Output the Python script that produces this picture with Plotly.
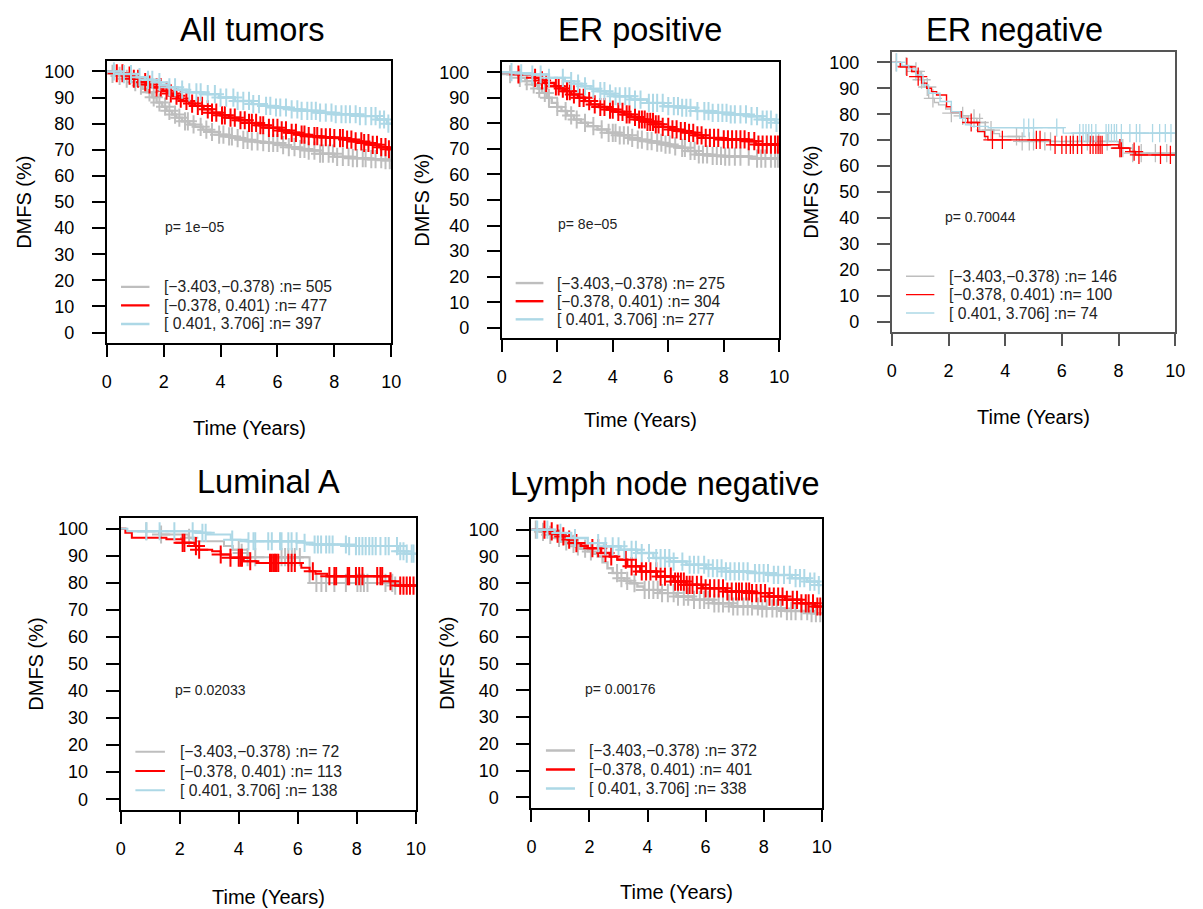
import plotly.graph_objects as go
import numpy as np

W, H = 1203, 909
OFF = 8  # default page margin of the html body; figure is shifted by it
FW, FH = W - OFF, H - OFF
GRAY, RED, BLUE = "#BEBEBE", "#FF0000", "#ADD8E6"
FONT = "Arial, 'Liberation Sans', Helvetica, sans-serif"

# ---------------- data ----------------
X_TICKS = [0, 2, 4, 6, 8, 10]
Y_TICKS = [0, 10, 20, 30, 40, 50, 60, 70, 80, 90, 100]
GROUP_RANGES = ["[\u22123.403,\u22120.378)", "[\u22120.378, 0.401)", "[ 0.401, 3.706]"]

# All tumors
ALL_N = [505, 477, 397]
ALL_P = "p= 1e\u221205"
ALL_GRAY_T = [0, 0.13, 0.35, 0.6, 0.85, 1.05, 1.25, 1.4, 1.6, 1.75, 1.95, 2.1, 2.3, 2.44, 2.65, 2.9, 3.1, 3.37, 3.65, 3.95, 4.2, 4.5, 4.8, 5.1, 5.4, 5.7, 6.05, 6.4, 6.75, 7.1, 7.5, 8.0, 8.6, 9.2, 9.7]
ALL_GRAY_S = [100, 99.1, 98.3, 97.2, 95.9, 94.6, 93.4, 92.0, 90.1, 88.1, 86.5, 84.9, 83.5, 82.3, 80.9, 79.7, 78.8, 77.7, 76.8, 75.8, 75.1, 74.5, 73.8, 73.2, 72.9, 72.6, 71.8, 71.0, 70.3, 69.7, 68.5, 67.3, 66.8, 66.4, 66.0]
ALL_GRAY_C = [0.2, 0.45, 0.7, 1.0, 1.2, 1.5, 1.65, 1.85, 2.05, 2.2, 2.4, 2.55, 2.75, 2.85, 3.05, 3.3, 3.5, 3.7, 3.95, 4.1, 4.3, 4.4, 4.6, 4.8, 4.95, 5.1, 5.3, 5.5, 5.7, 5.85, 6.0, 6.2, 6.4, 6.6, 6.8, 6.95, 7.1, 7.3, 7.5, 7.6, 7.8, 7.95, 8.1, 8.3, 8.5, 8.65, 8.8, 9.0, 9.1, 9.3, 9.45, 9.65, 9.8, 9.95]
ALL_RED_T = [0, 0.3, 0.6, 0.9, 1.17, 1.4, 1.63, 1.98, 2.15, 2.33, 2.5, 2.67, 2.9, 3.1, 3.4, 3.7, 4.0, 4.3, 4.65, 5.0, 5.35, 5.7, 6.05, 6.4, 6.75, 7.1, 7.5, 8.0, 8.35, 8.7, 9.0, 9.3, 9.6, 9.85]
ALL_RED_S = [100, 99.3, 98.4, 97.2, 95.9, 95.0, 93.9, 92.6, 91.6, 90.7, 89.6, 88.7, 87.7, 86.8, 85.5, 84.2, 83.2, 82.3, 81.3, 80.3, 79.4, 78.4, 77.4, 76.5, 75.8, 75.2, 74.8, 74.5, 73.9, 73.2, 72.6, 71.9, 71.0, 70.2]
ALL_RED_C = [0.35, 0.55, 0.8, 0.95, 1.1, 1.35, 1.5, 1.75, 1.9, 2.1, 2.25, 2.45, 2.6, 2.8, 3.0, 3.2, 3.35, 3.55, 3.7, 3.85, 4.05, 4.15, 4.35, 4.5, 4.7, 4.85, 5.0, 5.1, 5.25, 5.4, 5.5, 5.7, 5.85, 6.0, 6.15, 6.3, 6.5, 6.65, 6.85, 6.95, 7.1, 7.3, 7.4, 7.55, 7.7, 7.85, 8.0, 8.2, 8.3, 8.45, 8.6, 8.75, 8.95, 9.05, 9.2, 9.35, 9.5, 9.65, 9.8, 9.92]
ALL_BLUE_T = [0, 0.5, 1.05, 1.35, 1.63, 1.9, 2.2, 2.5, 2.8, 3.37, 3.95, 4.5, 5.1, 5.5, 5.9, 6.4, 6.84, 7.4, 8.0, 8.9, 9.5, 9.85]
ALL_BLUE_S = [100, 99.0, 97.8, 96.8, 95.9, 94.9, 93.9, 93.0, 92.0, 91.3, 90.0, 88.7, 87.5, 86.8, 86.2, 85.5, 84.9, 84.2, 83.6, 82.9, 81.6, 80.0]
ALL_BLUE_C = [0.25, 0.6, 0.85, 1.15, 1.45, 1.6, 1.85, 2.2, 2.4, 2.65, 2.9, 3.15, 3.3, 3.55, 3.8, 4.0, 4.2, 4.45, 4.6, 4.8, 5.0, 5.15, 5.35, 5.6, 5.75, 5.95, 6.1, 6.3, 6.5, 6.7, 6.85, 7.05, 7.2, 7.35, 7.5, 7.7, 7.9, 8.05, 8.25, 8.4, 8.55, 8.75, 8.9, 9.1, 9.3, 9.45, 9.6, 9.75, 9.9]

# ER positive
ERP_N = [275, 304, 277]
ERP_P = "p= 8e\u221205"
ERP_GRAY_T = [0, 0.2, 0.6, 0.85, 1.1, 1.3, 1.45, 1.62, 1.8, 2.0, 2.15, 2.35, 2.6, 2.85, 3.1, 3.45, 3.8, 4.2, 4.6, 4.9, 5.2, 5.5, 5.8, 6.1, 6.4, 6.7, 7.0, 7.5, 8.0, 9.0]
ERP_GRAY_S = [100, 99.2, 97.8, 96.5, 95.2, 93.6, 91.9, 90.0, 88.0, 86.4, 84.8, 83.1, 81.5, 80.2, 78.9, 77.6, 76.3, 75.3, 74.3, 73.6, 73.0, 72.4, 71.7, 71.0, 70.4, 69.2, 67.8, 67.3, 67.0, 66.2]
ERP_GRAY_C = [0.3, 0.65, 0.9, 1.15, 1.35, 1.55, 1.7, 2.0, 2.3, 2.5, 2.7, 3.0, 3.3, 3.6, 3.85, 4.0, 4.1, 4.25, 4.4, 4.55, 4.7, 4.9, 5.05, 5.25, 5.4, 5.6, 5.75, 5.9, 6.05, 6.25, 6.5, 6.6, 6.8, 6.95, 7.1, 7.25, 7.4, 7.6, 7.75, 7.9, 8.05, 8.2, 8.4, 8.6, 8.9, 9.2, 9.35, 9.5, 9.7, 9.85, 9.95]
ERP_RED_T = [0, 0.6, 1.1, 1.35, 1.56, 1.9, 2.1, 2.27, 2.5, 2.75, 3.0, 3.2, 3.5, 3.8, 4.1, 4.4, 4.65, 4.9, 5.2, 5.5, 5.8, 6.07, 6.35, 6.66, 6.95, 7.25, 7.96, 8.9, 9.15]
ERP_RED_S = [100, 99.1, 97.8, 96.8, 95.8, 94.5, 93.6, 92.6, 91.3, 90.0, 88.7, 87.4, 86.4, 85.4, 84.5, 83.5, 82.5, 81.5, 80.6, 79.6, 78.6, 77.6, 77.0, 76.3, 75.3, 74.3, 73.7, 73.0, 71.7]
ERP_RED_C = [0.6, 1.2, 1.45, 1.6, 1.95, 2.05, 2.2, 2.35, 2.45, 2.6, 2.8, 2.95, 3.15, 3.35, 3.55, 3.7, 3.9, 4.0, 4.2, 4.35, 4.5, 4.6, 4.8, 4.95, 5.05, 5.15, 5.25, 5.35, 5.45, 5.55, 5.65, 5.8, 6.0, 6.15, 6.3, 6.45, 6.6, 6.75, 6.9, 7.05, 7.2, 7.35, 7.5, 7.65, 7.8, 8.0, 8.15, 8.3, 8.45, 8.6, 8.75, 8.9, 9.1, 9.25, 9.4, 9.55, 9.7, 9.85, 9.95]
ERP_BLUE_T = [0, 0.5, 1.1, 1.7, 2.27, 2.6, 2.87, 3.2, 3.46, 3.75, 4.05, 4.64, 5.24, 5.83, 6.4, 7.0, 7.6, 8.2, 8.9, 9.4, 9.86]
ERP_BLUE_S = [100, 99.6, 99.1, 97.8, 96.5, 95.5, 94.5, 93.5, 92.6, 91.6, 90.6, 89.3, 88.0, 86.7, 86.1, 84.8, 84.1, 83.5, 82.8, 81.5, 80.2]
ERP_BLUE_C = [0.35, 0.7, 1.1, 1.4, 1.7, 2.2, 2.5, 2.75, 3.0, 3.3, 3.55, 3.7, 3.9, 4.1, 4.25, 4.45, 4.6, 4.8, 5.0, 5.3, 5.45, 5.6, 5.8, 6.0, 6.2, 6.35, 6.5, 6.65, 6.8, 7.05, 7.3, 7.45, 7.6, 7.8, 7.95, 8.1, 8.25, 8.4, 8.6, 8.8, 9.0, 9.2, 9.4, 9.55, 9.7, 9.9]

# ER negative
ERN_N = [146, 100, 74]
ERN_P = "p= 0.70044"
ERN_GRAY_T = [0, 0.3, 0.7, 1.0, 1.15, 1.3, 1.5, 1.65, 1.9, 2.1, 2.4, 2.7, 3.0, 3.3, 3.6, 3.8, 4.5, 8.0, 8.5]
ERN_GRAY_S = [100, 98.5, 96.5, 93.3, 90.5, 86.1, 84.5, 83.6, 82.0, 80.4, 79.4, 78.4, 76.8, 73.9, 72.5, 71.4, 69.5, 66.9, 65.0]
ERN_GRAY_C = [0.15, 0.5, 0.85, 1.05, 1.25, 1.45, 2.1, 2.5, 2.9, 3.1, 3.3, 3.5, 4.4, 4.6, 4.85, 5.0, 5.4, 5.6, 6.4, 6.9, 7.3, 7.6, 8.05, 8.15, 8.5, 8.8, 9.3, 9.7]
ERN_RED_T = [0, 0.3, 0.7, 0.9, 1.05, 1.23, 1.4, 1.58, 1.93, 2.1, 2.45, 2.68, 3.03, 3.27, 3.39, 5.59, 8.01, 8.4, 8.6]
ERN_RED_S = [100, 98.3, 96.5, 94.5, 92.0, 90.0, 88.7, 87.4, 82.9, 81.0, 78.4, 76.8, 73.3, 71.4, 70.1, 68.2, 66.9, 65.6, 64.3]
ERN_RED_C = [0.53, 0.93, 2.8, 3.55, 3.9, 5.1, 5.23, 5.76, 6.0, 6.15, 6.3, 6.4, 6.55, 6.7, 7.0, 7.1, 7.2, 7.28, 7.35, 7.42, 8.05, 8.1, 8.55, 8.72, 9.48, 9.83]
ERN_BLUE_T = [0, 0.35, 0.6, 0.85, 1.1, 1.3, 1.7, 2.1, 2.4, 2.6, 2.8, 3.4, 6.05]
ERN_BLUE_S = [100, 98.8, 97.5, 95.1, 91.3, 88.1, 84.9, 81.0, 78.4, 75.9, 75.3, 74.8, 72.7]
ERN_BLUE_C = [0.17, 4.66, 4.83, 5.0, 5.82, 6.63, 6.75, 6.85, 6.95, 7.05, 7.2, 7.56, 7.65, 7.75, 7.85, 7.93, 8.1, 8.4, 8.63, 8.75, 9.2, 9.45, 9.65, 9.85]

# Luminal A
LUMA_N = [72, 113, 138]
LUMA_P = "p= 0.02033"
LUMA_GRAY_T = [0, 0.2, 1.3, 2.3, 2.5, 3.5, 3.8, 4.1, 4.3, 6.4, 9.3]
LUMA_GRAY_S = [100, 99.1, 97.9, 96.7, 95.4, 93.6, 92.3, 91.1, 89.5, 80.0, 79.0]
LUMA_GRAY_C = [0.87, 1.37, 2.32, 4.0, 4.1, 4.3, 4.56, 5.45, 5.57, 5.68, 5.8, 5.9, 6.07, 6.63, 6.8, 6.96, 7.24, 7.63, 8.02, 8.13, 8.24, 8.36, 8.97, 9.2, 9.3]
LUMA_RED_T = [0, 0.16, 0.38, 1.55, 2.1, 2.5, 2.65, 3.1, 3.39, 3.72, 4.17, 4.6, 6.12, 6.4, 6.6, 7.0, 9.1, 9.3]
LUMA_RED_S = [100, 98.5, 96.7, 96.1, 94.8, 93.6, 92.3, 91.7, 90.5, 89.3, 88.0, 87.4, 85.6, 84.3, 83.4, 82.5, 80.6, 79.0]
LUMA_RED_C = [2.1, 2.16, 2.55, 2.66, 3.39, 3.72, 4.0, 4.06, 4.11, 4.39, 5.06, 5.12, 5.18, 5.23, 5.28, 5.34, 5.68, 5.79, 5.9, 6.51, 7.07, 7.24, 7.3, 7.69, 7.74, 7.97, 8.08, 8.19, 8.69, 8.8, 8.86, 9.14, 9.47, 9.58, 9.69, 9.8, 9.92]
LUMA_BLUE_T = [0, 0.23, 2.55, 2.9, 3.73, 4.3, 6.2, 6.5, 7.7, 9.4, 9.6]
LUMA_BLUE_S = [100, 99.1, 98.5, 97.9, 96.0, 95.4, 94.8, 94.2, 93.6, 91.7, 90.8]
LUMA_BLUE_C = [0.87, 1.32, 1.82, 2.44, 2.77, 2.88, 3.78, 4.33, 4.5, 4.56, 5.0, 5.12, 5.4, 5.45, 5.68, 5.79, 5.96, 6.23, 6.57, 6.68, 6.79, 6.96, 7.07, 7.18, 7.63, 7.74, 7.97, 8.08, 8.19, 8.3, 8.42, 8.53, 8.64, 8.8, 8.97, 9.08, 9.36, 9.47, 9.58, 9.69, 9.86, 9.92]

# Lymph node negative
LNN_N = [372, 401, 338]
LNN_P = "p= 0.00176"
LNN_GRAY_T = [0, 0.3, 0.58, 0.8, 1.03, 1.25, 1.49, 1.7, 1.94, 2.1, 2.28, 2.45, 2.62, 2.8, 2.96, 3.2, 3.41, 3.65, 3.87, 4.43, 5.0, 5.57, 6.25, 6.9, 7.83, 8.74, 9.65]
LNN_GRAY_S = [100, 99.2, 98.1, 96.9, 95.6, 94.7, 93.8, 92.9, 91.9, 91.0, 90.0, 87.8, 85.6, 83.8, 81.9, 80.9, 80.0, 78.8, 77.5, 76.3, 75.0, 73.8, 72.5, 71.3, 70.6, 69.6, 68.8]
LNN_GRAY_C = [0.15, 0.4, 0.65, 0.95, 1.2, 1.45, 1.6, 1.85, 2.05, 2.95, 3.1, 3.3, 3.55, 3.9, 4.05, 4.2, 4.35, 4.5, 4.7, 4.9, 5.05, 5.25, 5.4, 5.6, 5.8, 5.95, 6.1, 6.3, 6.45, 6.6, 6.8, 6.95, 7.1, 7.3, 7.45, 7.6, 7.8, 7.95, 8.1, 8.3, 8.45, 8.6, 8.8, 8.95, 9.1, 9.3, 9.5, 9.65, 9.8, 9.95]
LNN_RED_T = [0, 0.58, 0.8, 1.03, 1.25, 1.49, 1.7, 1.94, 2.4, 2.7, 2.96, 3.3, 3.75, 4.32, 4.9, 5.34, 5.9, 6.7, 7.6, 8.17, 8.74, 9.3, 9.76]
LNN_RED_S = [100, 99.4, 98.5, 97.5, 96.3, 95.0, 94.0, 93.1, 91.3, 90.0, 88.8, 86.3, 84.4, 82.5, 80.6, 79.4, 78.1, 76.9, 76.3, 75.0, 73.8, 72.5, 71.3]
LNN_RED_C = [0.45, 0.7, 0.9, 1.1, 1.3, 1.55, 2.1, 2.3, 2.55, 2.75, 3.25, 3.45, 3.6, 3.8, 3.95, 4.1, 4.3, 4.45, 4.6, 4.8, 4.95, 5.05, 5.15, 5.25, 5.35, 5.45, 5.55, 5.7, 5.85, 6.0, 6.15, 6.3, 6.45, 6.6, 6.75, 6.9, 7.05, 7.15, 7.25, 7.4, 7.5, 7.6, 7.75, 7.9, 8.05, 8.2, 8.35, 8.5, 8.65, 8.8, 9.0, 9.15, 9.3, 9.45, 9.55, 9.7, 9.85, 9.95]
LNN_BLUE_T = [0, 0.8, 1.37, 1.94, 2.5, 3.07, 3.64, 4.2, 4.77, 5.34, 6.02, 6.7, 7.5, 8.17, 8.97, 9.5, 9.88]
LNN_BLUE_S = [100, 98.8, 96.9, 95.0, 93.8, 92.5, 91.3, 89.4, 88.1, 86.9, 85.6, 84.4, 83.8, 83.1, 81.9, 80.6, 79.3]
LNN_BLUE_C = [0.2, 0.55, 1.0, 1.5, 2.3, 2.55, 2.8, 3.0, 3.2, 3.45, 3.6, 3.8, 4.05, 4.3, 4.45, 4.6, 4.75, 4.9, 5.2, 5.45, 5.6, 5.75, 5.95, 6.1, 6.25, 6.4, 6.55, 6.7, 6.85, 7.0, 7.15, 7.3, 7.45, 7.7, 7.85, 8.0, 8.15, 8.35, 8.5, 8.7, 8.9, 9.1, 9.25, 9.4, 9.6, 9.75, 9.9]

# ---------------- layout of the five panels (page pixel boxes) ----------------
PANELS = [
    dict(title="All tumors", box=(103, 61, 391, 343), title_c=(250, 30), xt_y=428, yt_x=19,
         n=ALL_N, p=ALL_P, px=1.98,
         curves=[(ALL_GRAY_T, ALL_GRAY_S, ALL_GRAY_C), (ALL_RED_T, ALL_RED_S, ALL_RED_C), (ALL_BLUE_T, ALL_BLUE_S, ALL_BLUE_C)],
         lw=2.4, mw=2.0, frame="black"),
    dict(title="ER positive", box=(503, 62, 784, 338), title_c=(643, 30), xt_y=420, yt_x=422,
         n=ERP_N, p=ERP_P, px=1.97,
         curves=[(ERP_GRAY_T, ERP_GRAY_S, ERP_GRAY_C), (ERP_RED_T, ERP_RED_S, ERP_RED_C), (ERP_BLUE_T, ERP_BLUE_S, ERP_BLUE_C)],
         lw=2.4, mw=2.0, frame="black"),
    dict(title="ER negative", box=(898, 52, 1185, 332), title_c=(1022, 30), xt_y=417, yt_x=816,
         n=ERN_N, p=ERN_P, px=1.81,
         curves=[(ERN_GRAY_T, ERN_GRAY_S, ERN_GRAY_C), (ERN_RED_T, ERN_RED_S, ERN_RED_C), (ERN_BLUE_T, ERN_BLUE_S, ERN_BLUE_C)],
         lw=1.4, mw=1.3, frame="#555555"),
    dict(title="Luminal A", box=(117, 518, 416, 810), title_c=(267, 482), xt_y=897, yt_x=31,
         n=LUMA_N, p=LUMA_P, px=1.79,
         curves=[(LUMA_GRAY_T, LUMA_GRAY_S, LUMA_GRAY_C), (LUMA_RED_T, LUMA_RED_S, LUMA_RED_C), (LUMA_BLUE_T, LUMA_BLUE_S, LUMA_BLUE_C)],
         lw=2.0, mw=2.0, frame="black"),
    dict(title="Lymph node negative", box=(533, 519, 827, 808), title_c=(668, 484), xt_y=892, yt_x=447,
         n=LNN_N, p=LNN_P, px=1.77,
         curves=[(LNN_GRAY_T, LNN_GRAY_S, LNN_GRAY_C), (LNN_RED_T, LNN_RED_S, LNN_RED_C), (LNN_BLUE_T, LNN_BLUE_S, LNN_BLUE_C)],
         lw=2.4, mw=2.0, frame="black"),
]
COLORS = [GRAY, RED, BLUE]
LEG_ROWS = [17.5, 10.4, 3.3]


def px_x(px):
    return (px - OFF) / FW


def px_y(py):
    return 1 - (py - OFF) / FH


def step_value(times, surv, t):
    idx = np.searchsorted(np.asarray(times), t, side="right") - 1
    return np.asarray(surv)[idx]


fig = go.Figure()
annotations = []
shapes = []
layout_axes = {}

for i, pn in enumerate(PANELS):
    k = "" if i == 0 else str(i + 1)
    xr, yr = "x" + k, "y" + k
    x0, y0, x1, y1 = pn["box"]
    layout_axes["xaxis" + k] = dict(
        domain=[px_x(x0), px_x(x1)], range=[0, 10], anchor=yr,
        tickmode="array", tickvals=X_TICKS, ticks="outside", ticklen=12, tickwidth=2,
        tickcolor=pn["frame"], showline=True, linecolor=pn["frame"], linewidth=2, mirror=True,
        showgrid=False, zeroline=False, tickfont=dict(size=18, color="black", family=FONT),
        ticklabelstandoff=9, fixedrange=True,
    )
    layout_axes["yaxis" + k] = dict(
        domain=[px_y(y1), px_y(y0)], range=[-4, 104], anchor=xr,
        tickmode="array", tickvals=Y_TICKS, ticks="outside", ticklen=13, tickwidth=2,
        tickcolor=pn["frame"], showline=True, linecolor=pn["frame"], linewidth=2, mirror=True,
        showgrid=False, zeroline=False, tickfont=dict(size=18, color="black", family=FONT),
        ticklabelstandoff=14, fixedrange=True,
    )
    for (t, s, c), col in zip(pn["curves"], COLORS):
        tx = list(t) + [10.0]
        sy = list(s) + [s[-1]]
        fig.add_trace(go.Scatter(x=tx, y=sy, mode="lines", line=dict(color=col, width=pn["lw"], shape="hv"),
                                 xaxis=xr, yaxis=yr, showlegend=False, hoverinfo="skip"))
        cy = step_value(t, s, np.asarray(c))
        fig.add_trace(go.Scatter(x=c, y=cy, mode="markers",
                                 marker=dict(symbol="cross-thin", size=13, line=dict(color=col, width=pn["mw"])),
                                 xaxis=xr, yaxis=yr, showlegend=False, hoverinfo="skip"))
    # title
    annotations.append(dict(text=pn["title"], x=px_x(pn["title_c"][0]), y=px_y(pn["title_c"][1]),
                            xref="paper", yref="paper", xanchor="center", yanchor="middle",
                            showarrow=False, font=dict(size=32.5, color="black", family=FONT)))
    # axis titles
    annotations.append(dict(text="Time (Years)", x=px_x((x0 + x1) / 2), y=px_y(pn["xt_y"]),
                            xref="paper", yref="paper", xanchor="center", yanchor="middle",
                            showarrow=False, font=dict(size=20, color="black", family=FONT)))
    annotations.append(dict(text="DMFS (%)", x=px_x(pn["yt_x"]), y=px_y((y0 + y1) / 2), textangle=-90,
                            xref="paper", yref="paper", xanchor="center", yanchor="middle",
                            showarrow=False, font=dict(size=20, color="black", family=FONT)))
    # p value
    annotations.append(dict(text=pn["p"], x=pn["px"], y=40.5, xref=xr, yref=yr,
                            xanchor="left", yanchor="middle", showarrow=False,
                            font=dict(size=14, color="#222222", family=FONT)))
    # legend
    for rng, n, col, ry in zip(GROUP_RANGES, pn["n"], COLORS, LEG_ROWS):
        shapes.append(dict(type="line", xref=xr, yref=yr, x0=0.5, x1=1.5, y0=ry, y1=ry,
                           line=dict(color=col, width=pn["lw"])))
        annotations.append(dict(text=f"{rng} :n= {n}", x=1.93, y=ry, xref=xr, yref=yr,
                                xanchor="left", yanchor="middle", showarrow=False,
                                font=dict(size=15.7, color="#222222", family=FONT)))

fig.update_layout(
    width=FW, height=FH, margin=dict(l=0, r=0, t=0, b=0),
    paper_bgcolor="white", plot_bgcolor="white",
    annotations=annotations, shapes=shapes, showlegend=False,
    font=dict(family=FONT),
    **layout_axes,
)

fig.write_html("out.html")
